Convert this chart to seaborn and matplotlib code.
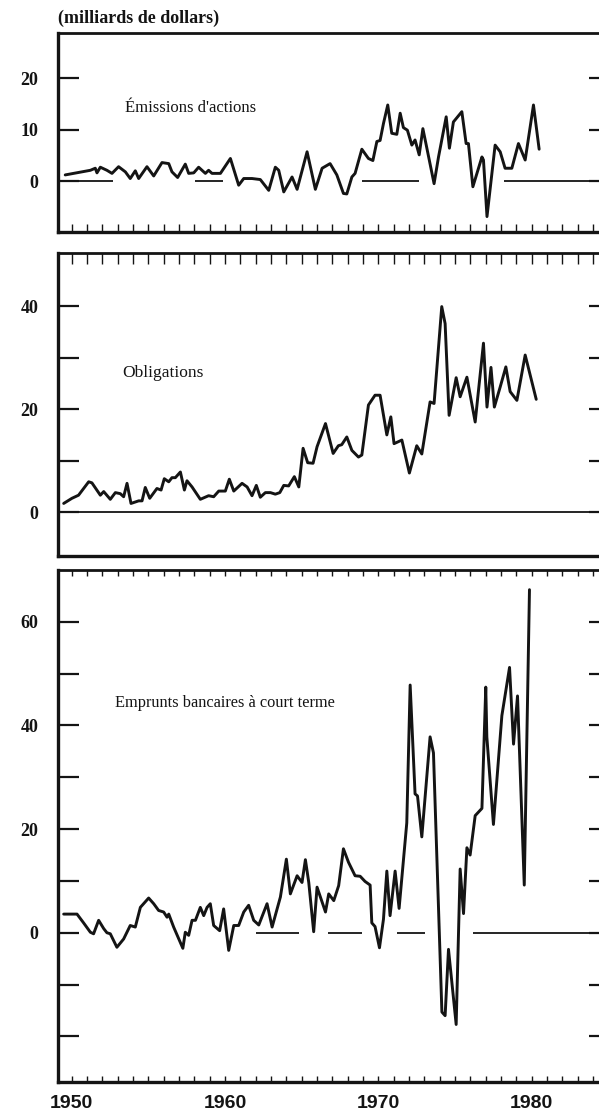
import numpy as np
import pandas as pd
import matplotlib
matplotlib.use("Agg")
import matplotlib.pyplot as plt
import seaborn as sns

# ---------------- data (billions of dollars) ----------------
years_actions = [1949.58, 1951.22, 1951.54, 1951.65, 1951.87, 1952.30, 1952.63, 1953.06, 1953.50, 1953.82,
                 1954.15, 1954.37, 1954.91, 1955.35, 1955.89, 1956.33, 1956.54, 1956.91, 1957.41, 1957.63,
                 1957.96, 1958.28, 1958.72, 1958.93, 1959.15, 1959.70, 1960.35, 1960.89, 1961.22, 1961.76,
                 1962.30, 1962.85, 1963.28, 1963.50, 1963.83, 1964.37, 1964.70, 1965.35, 1965.89, 1966.33,
                 1966.85, 1967.29, 1967.72, 1967.94, 1968.27, 1968.48, 1968.92, 1969.35, 1969.64, 1969.90,
                 1970.11, 1970.33, 1970.61, 1970.87, 1971.20, 1971.42, 1971.63, 1971.89, 1972.18, 1972.39,
                 1972.66, 1972.90, 1973.16, 1973.63, 1973.92, 1974.42, 1974.63, 1974.89, 1975.44, 1975.72,
                 1975.87, 1976.16, 1976.75, 1976.85, 1977.08, 1977.61, 1977.94, 1978.26, 1978.70, 1979.13,
                 1979.57, 1980.11, 1980.48]
actions = [1.2, 2.1, 2.5, 1.6, 2.7, 2.1, 1.5, 2.8, 1.8, 0.5,
           2.0, 0.5, 2.8, 1.0, 3.6, 3.4, 1.8, 0.7, 3.3, 1.5,
           1.6, 2.7, 1.5, 2.1, 1.5, 1.5, 4.4, -0.8, 0.5, 0.5,
           0.3, -1.8, 2.7, 2.1, -2.1, 0.8, -1.6, 5.7, -1.6, 2.5,
           3.4, 1.2, -2.4, -2.5, 0.8, 1.5, 6.2, 4.4, 4.0, 7.7,
           7.9, 11.2, 14.8, 9.3, 9.1, 13.2, 10.4, 9.9, 7.0, 8.0,
           5.1, 10.2, 6.4, -0.5, 4.7, 12.5, 6.4, 11.5, 13.5, 7.3,
           7.3, -1.1, 4.7, 4.1, -6.9, 7.0, 5.7, 2.5, 2.5, 7.3,
           4.1, 14.8, 6.2]

years_obligations = [1949.48, 1950.02, 1950.45, 1951.11, 1951.32, 1951.87, 1952.09, 1952.52, 1952.85, 1953.17,
                     1953.39, 1953.61, 1953.87, 1954.37, 1954.59, 1954.80, 1955.09, 1955.56, 1955.83, 1956.04,
                     1956.33, 1956.54, 1956.76, 1957.09, 1957.35, 1957.52, 1957.85, 1958.39, 1958.93, 1959.26,
                     1959.59, 1960.02, 1960.28, 1960.57, 1961.11, 1961.44, 1961.76, 1962.04, 1962.30, 1962.63,
                     1962.96, 1963.28, 1963.57, 1963.83, 1964.15, 1964.52, 1964.81, 1965.09, 1965.39, 1965.74,
                     1966.00, 1966.55, 1967.05, 1967.39, 1967.61, 1967.94, 1968.27, 1968.70, 1968.92, 1969.35,
                     1969.78, 1970.11, 1970.55, 1970.81, 1971.02, 1971.53, 1972.02, 1972.50, 1972.83, 1973.37,
                     1973.63, 1974.13, 1974.35, 1974.61, 1975.07, 1975.33, 1975.77, 1976.31, 1976.85, 1977.08,
                     1977.34, 1977.56, 1977.94, 1978.31, 1978.59, 1979.03, 1979.57, 1980.29]
obligations = [1.7, 2.7, 3.3, 5.9, 5.7, 3.3, 4.0, 2.5, 3.8, 3.6,
               3.0, 5.6, 1.7, 2.2, 2.2, 4.8, 2.7, 4.6, 4.3, 6.5,
               5.9, 6.7, 6.7, 7.8, 4.3, 6.1, 4.9, 2.5, 3.2, 3.0,
               4.1, 4.1, 6.4, 4.1, 5.6, 4.9, 3.2, 5.2, 2.9, 3.8,
               3.8, 3.5, 3.8, 5.2, 5.1, 6.9, 4.9, 12.4, 9.6, 9.5,
               12.7, 17.2, 11.4, 12.9, 13.1, 14.6, 12.0, 10.7, 11.1, 20.8,
               22.7, 22.7, 15.0, 18.5, 13.3, 14.0, 7.6, 12.9, 11.3, 21.4,
               21.1, 39.9, 36.6, 18.8, 26.1, 22.4, 26.2, 17.5, 32.8, 20.4,
               28.1, 20.4, 24.3, 28.2, 23.4, 21.7, 30.5, 21.9]

years_emprunts = [1949.48, 1950.35, 1950.78, 1951.22, 1951.43, 1951.76, 1952.09, 1952.30, 1952.52, 1952.95,
                  1953.39, 1953.82, 1954.15, 1954.48, 1955.02, 1955.35, 1955.67, 1956.00, 1956.22, 1956.33,
                  1956.65, 1957.25, 1957.41, 1957.63, 1957.85, 1958.07, 1958.39, 1958.61, 1958.83, 1959.04,
                  1959.26, 1959.65, 1959.91, 1960.24, 1960.57, 1960.89, 1961.22, 1961.54, 1961.87, 1962.20,
                  1962.74, 1963.07, 1963.61, 1964.00, 1964.26, 1964.70, 1965.02, 1965.24, 1965.46, 1965.78,
                  1966.00, 1966.55, 1966.76, 1967.09, 1967.41, 1967.72, 1968.05, 1968.48, 1968.81, 1969.13,
                  1969.46, 1969.57, 1969.78, 1970.07, 1970.33, 1970.55, 1970.76, 1971.09, 1971.35, 1971.85,
                  1972.07, 1972.39, 1972.55, 1972.83, 1973.37, 1973.59, 1974.14, 1974.35, 1974.57, 1975.07,
                  1975.33, 1975.55, 1975.77, 1975.98, 1976.31, 1976.75, 1977.00, 1977.07, 1977.50, 1978.05,
                  1978.55, 1978.81, 1979.07, 1979.51, 1979.85]
emprunts = [3.6, 3.6, 1.9, 0.1, -0.2, 2.4, 0.8, 0.0, -0.2, -2.8,
            -1.2, 1.4, 1.1, 4.9, 6.7, 5.6, 4.3, 4.0, 3.0, 3.6,
            1.1, -3.0, 0.1, -0.5, 2.4, 2.4, 4.9, 3.3, 4.9, 5.6,
            1.4, 0.4, 4.6, -3.4, 1.4, 1.4, 4.0, 5.3, 2.4, 1.5,
            5.6, 1.1, 6.9, 14.2, 7.5, 11.0, 9.7, 14.1, 9.7, 0.2,
            8.8, 4.0, 7.5, 6.2, 9.1, 16.2, 13.6, 11.0, 10.9, 9.9,
            9.2, 1.9, 1.2, -2.9, 2.6, 11.9, 3.3, 11.9, 4.7, 21.2,
            47.8, 26.8, 26.4, 18.5, 37.8, 34.7, -15.3, -16.0, -3.2, -17.7,
            12.3, 3.7, 16.4, 15.0, 22.6, 24.0, 47.4, 37.8, 20.9, 41.9,
            51.2, 36.4, 45.7, 9.2, 66.2]

# zero reference line pieces (start year, end year) as printed
zero_actions = [(1949.56, 1952.70), (1958.06, 1959.88), (1968.94, 1972.65), (1978.20, 1986.0)]
zero_obligations = [(1949.0, 1986.0)]
zero_emprunts = [(1962.04, 1964.80), (1966.74, 1968.92), (1971.20, 1973.05), (1976.20, 1986.0)]

labels = ["Émissions d'actions", "Obligations", "Emprunts bancaires à court terme"]
yticks_major = [[0, 10, 20], [0, 20, 40], [0, 20, 40, 60]]
yticks_minor = [[], [10, 30], [-20, -10, 10, 30, 50]]
xtick_labels = ["1950", "1960", "1970", "1980"]

# ---------------- style ----------------
sns.set_theme(style="white")
plt.rcParams["font.family"] = ["Liberation Serif", "DejaVu Serif"]
INK = "#141414"

W, H = 599, 1120
fig = plt.figure(figsize=(W / 100, H / 100), dpi=100)
fig.patch.set_facecolor("white")

def px_axes(top, bottom, left=58, right=610):
    return fig.add_axes([left / W, 1 - bottom / H, (right - left) / W, (bottom - top) / H])

ax1 = px_axes(33, 232)
ax2 = px_axes(253, 556)
ax3 = px_axes(570, 1082)
axes = [ax1, ax2, ax3]
ylims = [(-9.9, 28.8), (-8.5, 50.3), (-28.8, 70.0)]
xlim = (1949.11, 1985.1)

series = [(years_actions, actions), (years_obligations, obligations), (years_emprunts, emprunts)]
zeros = [zero_actions, zero_obligations, zero_emprunts]
text_pos = [(1953.48, 14.2), (1953.28, 27.0), (1952.83, 44.4)]
text_size = [12.0, 12.5, 11.8]

years_int = np.arange(1950, 1986)

for i, ax in enumerate(axes):
    xs, ys = series[i]
    df = pd.DataFrame({"annee": xs, "valeur": ys})
    for (a, b) in zeros[i]:
        ax.plot([a, b], [0, 0], color=INK, lw=1.3, solid_capstyle="butt", zorder=1)
    sns.lineplot(data=df, x="annee", y="valeur", ax=ax, color=INK, lw=2.1,
                 estimator=None, sort=False, zorder=3)
    ax.set_xlim(*xlim)
    ax.set_ylim(*ylims[i])
    ax.set_xlabel("")
    ax.set_ylabel("")
    ax.set_facecolor("white")
    for s in ax.spines.values():
        s.set_visible(True)
        s.set_color(INK)
        s.set_linewidth(2.0)
    ax.spines["left"].set_linewidth(2.4)
    ax.spines["bottom"].set_linewidth(2.4)

    ax.set_yticks(yticks_major[i])
    ax.set_yticklabels([str(v) for v in yticks_major[i]], fontweight="bold", fontsize=13,
                       family=["Liberation Serif"])
    ax.set_yticks(yticks_minor[i], minor=True)
    ax.tick_params(axis="y", which="both", direction="in", length=15, width=1.6,
                   left=True, right=True, labelleft=True, labelright=False, pad=14, colors=INK)

    ax.set_xticks(years_int)
    ax.set_xticklabels(["" for _ in years_int])
    ax.text(*text_pos[i], labels[i], fontsize=text_size[i], color=INK, ha="left", va="center",
            family=["Liberation Serif"])

ax1.tick_params(axis="x", direction="in", length=6, width=1.0, bottom=True, top=False,
                labelbottom=False, colors=INK)
ax2.tick_params(axis="x", direction="in", length=8, width=1.0, bottom=False, top=True,
                labelbottom=False, colors=INK)
ax3.tick_params(axis="x", direction="in", length=7, width=1.0, bottom=True, top=True,
                labelbottom=True, pad=9, colors=INK)
ax3.set_xticklabels([str(y) if str(y) in xtick_labels else "" for y in years_int],
                    fontsize=14, fontweight="bold", family=["Liberation Sans"])
ax3.tick_params(axis="x", which="major", bottom=True, length=4)

fig.text(58 / W, 1 - 18 / H, "(milliards de dollars)", fontsize=13, fontweight="bold",
         ha="left", va="center", color=INK, family=["Liberation Serif"])

fig.savefig("out.png", dpi=100, facecolor="white")
